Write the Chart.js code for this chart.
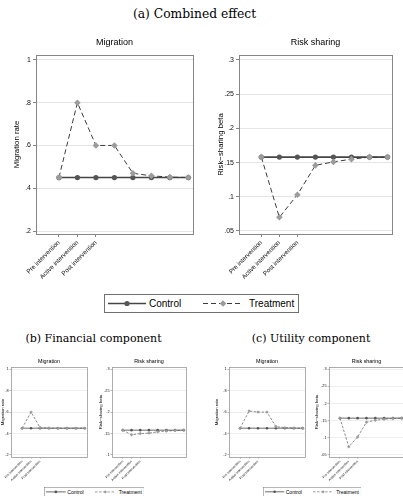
<!DOCTYPE html>
<html><head><meta charset="utf-8">
<script src="https://cdn.jsdelivr.net/npm/chart.js@4.4.1/dist/chart.umd.min.js"></script>
<style>
html,body{margin:0;padding:0;width:403px;height:496px;overflow:hidden;background:#fff;}
canvas{position:absolute;}
.cap{position:absolute;width:300px;text-align:center;font-family:'DejaVu Serif',serif;font-size:11px;line-height:14px;color:#000;white-space:nowrap;}
svg.leg{position:absolute;}
</style></head><body>
<div class="cap" style="left:44.5px;top:7px;font-size:12.3px">(a) Combined effect</div>
<div class="cap" style="left:-56.5px;top:332px">(b) Financial component</div>
<div class="cap" style="left:161px;top:332px">(c) Utility component</div>
<script>
// ---------- data ----------
const periods = [1, 2, 3, 4, 5, 6, 7, 8];
const periodTicks = [1, 2, 3];
const periodLabels = ['Pre intervention', 'Active intervention', 'Post intervention'];
const seriesNames = ['Control', 'Treatment'];

const migTickValues = [0.2, 0.4, 0.6, 0.8, 1];
const migTickLabels = ['.2', '.4', '.6', '.8', '1'];
const riskTickValues = [0.05, 0.1, 0.15, 0.2, 0.25, 0.3];
const riskTickLabels = ['.05', '.1', '.15', '.2', '.25', '.3'];
const riskTickValuesFin = [0.1, 0.15, 0.2, 0.25, 0.3];
const riskTickLabelsFin = ['.1', '.15', '.2', '.25', '.3'];

// (a) Combined effect
const migControlA = [0.45, 0.45, 0.45, 0.45, 0.45, 0.45, 0.45, 0.45];
const migTreatA = [0.45, 0.80, 0.60, 0.60, 0.47, 0.458, 0.452, 0.45];
const riskControlA = [0.158, 0.158, 0.158, 0.158, 0.158, 0.158, 0.158, 0.158];
const riskTreatA = [0.158, 0.070, 0.103, 0.146, 0.151, 0.155, 0.158, 0.158];
// (b) Financial component
const migControlB = [0.45, 0.45, 0.45, 0.45, 0.45, 0.45, 0.45, 0.45];
const migTreatB = [0.45, 0.60, 0.456, 0.452, 0.45, 0.45, 0.45, 0.45];
const riskControlB = [0.158, 0.158, 0.158, 0.158, 0.158, 0.158, 0.158, 0.158];
const riskTreatB = [0.158, 0.147, 0.150, 0.151, 0.154, 0.156, 0.157, 0.158];
// (c) Utility component
const migControlC = [0.45, 0.45, 0.45, 0.45, 0.45, 0.45, 0.45, 0.45];
const migTreatC = [0.45, 0.61, 0.60, 0.60, 0.465, 0.455, 0.452, 0.45];
const riskControlC = [0.157, 0.157, 0.157, 0.157, 0.157, 0.157, 0.157, 0.157];
const riskTreatC = [0.157, 0.073, 0.102, 0.145, 0.151, 0.154, 0.156, 0.157];

// ---------- styling ----------
const FF = "'Liberation Sans', Arial, sans-serif";
Chart.defaults.font.family = FF;
const CTRL_LINE = '#454545', CTRL_PT = '#555555', TREAT_LINE = '#3c3c3c', TREAT_PT = '#9c9c9c';
const big = {titleSize: 9, yTitle: 7.8, yTick: 7, xTick: 6.3, tl: 3, tw: 1, yPad: 2, xPad: 2,
  grid: '#e4e4e4', gw: 1, frame: '#868686', frameW: 1,
  ctrl: {bw: 1.6, r: 2.6}, treat: {bw: 1, r: 3.3, dash: [5, 3]}};
const small = {titleSize: 5.4, yTitle: 4.3, yTick: 3.8, xTick: 3.4, tl: 1.5, tw: 0.7, yPad: 1, xPad: 1,
  grid: '#e6e6e6', gw: 0.7, frame: '#9a9a9a', frameW: 0.8,
  ctrl: {bw: 0.8, r: 1.3}, treat: {bw: 0.6, r: 1.7, dash: [2.5, 1.5]}};

const framePlugin = {
  id: 'frame',
  beforeDatasetsDraw(chart, args, opts) {
    const {ctx, chartArea: a} = chart;
    ctx.save();
    ctx.strokeStyle = opts.color; ctx.lineWidth = opts.width;
    ctx.strokeRect(a.left + 0.5, a.top + 0.5, a.right - a.left, a.bottom - a.top);
    ctx.restore();
  }
};

function panel(c) {
  const s = c.st;
  const w = c.W + (c.R - c.L) + c.PR, h = c.TH + (c.B - c.T) + c.PB;
  const cv = document.createElement('canvas');
  cv.width = w; cv.height = h;
  cv.style.left = (c.L - c.W) + 'px'; cv.style.top = (c.T - c.TH) + 'px';
  cv.style.width = w + 'px'; cv.style.height = h + 'px';
  document.body.appendChild(cv);
  new Chart(cv, {
    type: 'line',
    data: {datasets: [
      {label: seriesNames[1], data: periods.map((p, i) => ({x: p, y: c.treat[i]})),
       borderColor: TREAT_LINE, borderWidth: s.treat.bw, borderDash: s.treat.dash, tension: 0,
       pointStyle: 'rectRot', pointRadius: s.treat.r, pointBackgroundColor: TREAT_PT, pointBorderWidth: 0, fill: false},
      {label: seriesNames[0], data: periods.map((p, i) => ({x: p, y: c.ctrl[i]})),
       borderColor: CTRL_LINE, borderWidth: s.ctrl.bw, tension: 0,
       pointStyle: 'circle', pointRadius: s.ctrl.r, pointBackgroundColor: CTRL_PT, pointBorderWidth: 0, fill: false}
    ]},
    options: {
      responsive: false, animation: false, events: [], devicePixelRatio: 1,
      layout: {padding: {left: 0, top: 0, right: c.PR, bottom: 0}},
      plugins: {
        legend: {display: false}, tooltip: {enabled: false},
        title: {display: true, text: c.title, fullSize: false, color: '#000',
          font: {family: FF, size: s.titleSize, lineHeight: 1, weight: 'normal'},
          padding: {top: c.tTop, bottom: c.TH - s.titleSize - c.tTop}},
        frame: {color: s.frame, width: s.frameW}
      },
      scales: {
        x: {type: 'linear', min: -0.24, max: 8.25,
          afterBuildTicks: sc => { sc.ticks = periodTicks.map(v => ({value: v})); },
          afterFit: sc => { sc.height = c.PB; },
          ticks: {autoSkip: false, minRotation: 45, maxRotation: 45, padding: s.xPad, color: '#111',
            font: {family: FF, size: s.xTick}, callback: (v, i) => periodLabels[i]},
          grid: {drawOnChartArea: false, drawTicks: true, tickLength: s.tl, tickColor: s.frame, tickWidth: s.tw},
          border: {display: false}},
        y: {type: 'linear', min: c.yMin, max: c.yMax,
          afterBuildTicks: sc => { sc.ticks = c.yTicks.map(v => ({value: v})); },
          afterFit: sc => { sc.width = c.W; },
          ticks: {padding: s.yPad, color: '#111', font: {family: FF, size: s.yTick},
            callback: (v, i) => c.yLabels[i]},
          grid: {color: s.grid, lineWidth: s.gw, drawTicks: true, tickLength: s.tl, tickColor: s.frame, tickWidth: s.tw},
          border: {display: false},
          title: {display: true, text: c.yTitle, color: '#000',
            font: {family: FF, size: s.yTitle, lineHeight: 1}, padding: {top: c.yTitleTop, bottom: 0}}}
      }
    },
    plugins: [framePlugin]
  });
}

function legend(x, y, scale) {
  const NS = 'http://www.w3.org/2000/svg';
  const svg = document.createElementNS(NS, 'svg');
  svg.setAttribute('class', 'leg');
  svg.setAttribute('width', 195 * scale); svg.setAttribute('height', 19 * scale);
  svg.setAttribute('viewBox', '0 0 195 19');
  svg.style.left = x + 'px'; svg.style.top = y + 'px';
  const mk = (tag, attrs, txt) => { const e = document.createElementNS(NS, tag);
    for (const k in attrs) e.setAttribute(k, attrs[k]); if (txt) e.textContent = txt; svg.appendChild(e); };
  mk('rect', {x: 0.5, y: 0.5, width: 194, height: 18, fill: '#fff', stroke: '#707070', 'stroke-width': 1});
  mk('line', {x1: 4, y1: 9.5, x2: 42, y2: 9.5, stroke: CTRL_LINE, 'stroke-width': 1.6});
  mk('circle', {cx: 23, cy: 9.5, r: 2.6, fill: CTRL_PT});
  mk('text', {x: 45, y: 13, 'font-family': FF, 'font-size': 10, fill: '#000'}, seriesNames[0]);
  mk('line', {x1: 99, y1: 9.5, x2: 139, y2: 9.5, stroke: TREAT_LINE, 'stroke-width': 1, 'stroke-dasharray': '5 3'});
  mk('polygon', {points: '119,6.2 122.3,9.5 119,12.8 115.7,9.5', fill: TREAT_PT});
  mk('text', {x: 145, y: 13, 'font-family': FF, 'font-size': 10, fill: '#000'}, seriesNames[1]);
  document.body.appendChild(svg);
}

// ---------- (a) ----------
panel({st: big, title: 'Migration', yTitle: 'Migration rate', L: 36, T: 55, R: 194, B: 234, W: 34, TH: 18, tTop: 1.5, PB: 55, PR: 3,
  yTitleTop: 11.1, yMin: 0.186, yMax: 1.023, yTicks: migTickValues, yLabels: migTickLabels, ctrl: migControlA, treat: migTreatA});
panel({st: big, title: 'Risk sharing', yTitle: 'Risk\u2212sharing beta', L: 239, T: 55, R: 393, B: 234, W: 34, TH: 18, tTop: 1.5, PB: 55, PR: 3,
  yTitleTop: 12.1, yMin: 0.0456, yMax: 0.3073, yTicks: riskTickValues, yLabels: riskTickLabels, ctrl: riskControlA, treat: riskTreatA});
legend(104, 294, 1);

// ---------- (b) ----------
panel({st: small, title: 'Migration', yTitle: 'Migration rate', L: 11, T: 367, R: 89, B: 457, W: 11, TH: 9, tTop: 1.3, PB: 30, PR: 2,
  yTitleTop: 0.85, yMin: 0.181, yMax: 1.021, yTicks: migTickValues, yLabels: migTickLabels, ctrl: migControlB, treat: migTreatB});
panel({st: small, title: 'Risk sharing', yTitle: 'Risk\u2212sharing beta', L: 112, T: 367, R: 188, B: 457, W: 14, TH: 9, tTop: 1.3, PB: 30, PR: 2,
  yTitleTop: 0.55, yMin: 0.0953, yMax: 0.3054, yTicks: riskTickValuesFin, yLabels: riskTickLabelsFin, ctrl: riskControlB, treat: riskTreatB});
legend(43.5, 487, 0.515);

// ---------- (c) ----------
panel({st: small, title: 'Migration', yTitle: 'Migration rate', L: 229, T: 367, R: 307, B: 457, W: 14, TH: 9, tTop: 1.3, PB: 30, PR: 2,
  yTitleTop: 0.15, yMin: 0.181, yMax: 1.021, yTicks: migTickValues, yLabels: migTickLabels, ctrl: migControlC, treat: migTreatC});
panel({st: small, title: 'Risk sharing', yTitle: 'Risk\u2212sharing beta', L: 329, T: 367, R: 406, B: 457, W: 14, TH: 9, tTop: 1.3, PB: 30, PR: 2,
  yTitleTop: 0.15, yMin: 0.0433, yMax: 0.3067, yTicks: riskTickValues, yLabels: riskTickLabels, ctrl: riskControlC, treat: riskTreatC});
legend(262.7, 487, 0.505);
</script>
</body></html>
